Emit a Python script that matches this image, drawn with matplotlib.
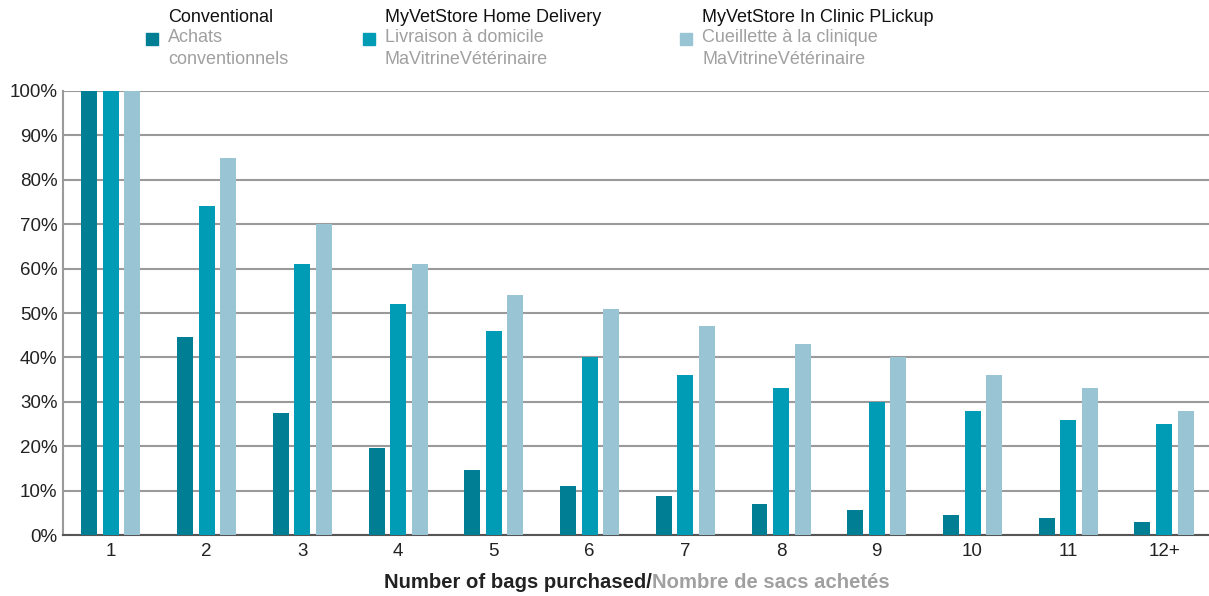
import numpy as np
import matplotlib.pyplot as plt
from matplotlib.patches import Rectangle

plt.rcParams['font.family'] = ['Liberation Sans', 'DejaVu Sans']

categories = ['1', '2', '3', '4', '5', '6', '7', '8', '9', '10', '11', '12+']
conventional = [100, 44.7, 27.4, 19.6, 14.6, 11.0, 8.8, 7.0, 5.6, 4.5, 3.8, 2.9]
home_delivery = [100, 74, 61, 52, 46, 40, 36, 33, 30, 28, 25.9, 24.9]
clinic_pickup = [100, 85, 70, 61, 54, 51, 47, 43, 40, 36, 33, 28]

series_en = ['Conventional', 'MyVetStore Home Delivery', 'MyVetStore In Clinic PLickup']
series_fr = ['Achats\nconventionnels', 'Livraison à domicile\nMaVitrineVétérinaire',
             'Cueillette à la clinique\nMaVitrineVétérinaire']
colors = ['#007e93', '#009cb6', '#98c4d4']

fig = plt.figure(figsize=(12.09, 5.96), dpi=100)
ax = fig.add_axes([63 / 1209, 61 / 596, 1 - 63 / 1209, 444 / 596])

x = np.arange(1, len(categories) + 1)
w = 0.167
off = 0.225
for i, vals in enumerate([conventional, home_delivery, clinic_pickup]):
    ax.bar(x + (i - 1) * off, vals, width=w, color=colors[i], zorder=3)

ax.set_xlim(0.5, 12.47)
ax.set_ylim(0, 100)
ax.set_yticks(range(0, 101, 10))
ax.set_yticklabels([f'{v}%' for v in range(0, 101, 10)])
ax.set_xticks(x)
ax.set_xticklabels(categories)
ax.yaxis.grid(True, color='#9a9a9a', linewidth=1.5, zorder=0)
ax.tick_params(length=0, labelsize=13.5, colors='#222222')
ax.tick_params(axis='x', pad=6)
ax.tick_params(axis='y', pad=4)
for s in ['top', 'right']:
    ax.spines[s].set_visible(False)
ax.spines['left'].set_color('#9a9a9a')
ax.spines['left'].set_linewidth(1.5)
ax.spines['bottom'].set_color('#555555')
ax.spines['bottom'].set_linewidth(1.5)

# x label in two colours
fig.text(652 / 1209, 1 - 583 / 596, 'Number of bags purchased/', ha='right', va='center',
         fontsize=14.6, fontweight='bold', color='#222222')
fig.text(652 / 1209, 1 - 583 / 596, 'Nombre de sacs achetés', ha='left', va='center',
         fontsize=14.6, fontweight='bold', color='#a0a0a0')

# legend at top
leg_x = [146, 363, 680]
for i in range(3):
    fig.add_artist(Rectangle((leg_x[i] / 1209, 1 - 45 / 596), 12 / 1209, 12 / 596,
                             transform=fig.transFigure, color=colors[i]))
    fig.text((leg_x[i] + 22) / 1209, 1 - 17 / 596, series_en[i], ha='left', va='center',
             fontsize=13, color='#111111')
    fig.text((leg_x[i] + 22) / 1209, 1 - 29 / 596, series_fr[i], ha='left', va='top',
             fontsize=13, color='#a0a0a0', linespacing=1.35)

fig.savefig('out.png', dpi=100)
